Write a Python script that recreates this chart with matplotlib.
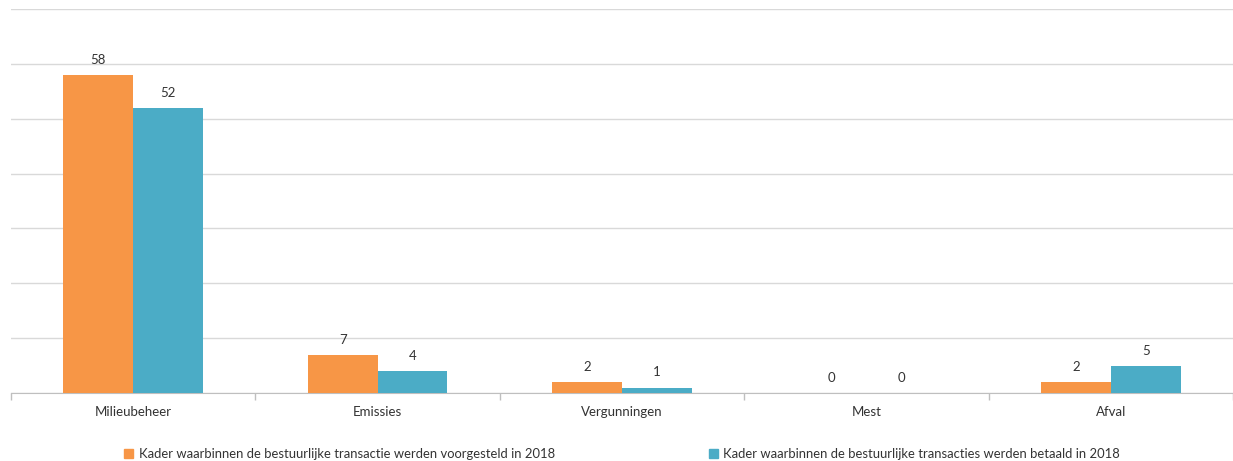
import matplotlib
matplotlib.use("Agg")
import matplotlib.pyplot as plt
import numpy as np
from matplotlib.patches import Patch

categories = ["Milieubeheer", "Emissies", "Vergunningen", "Mest", "Afval"]
voorgesteld = [58, 7, 2, 0, 2]
betaald = [52, 4, 1, 0, 5]
series_names = ["Kader waarbinnen de bestuurlijke transactie werden voorgesteld in 2018",
                "Kader waarbinnen de bestuurlijke transacties werden betaald in 2018"]
colors = ["#F79646", "#4BACC6"]

plt.rcParams['font.family'] = ['Lato', 'DejaVu Sans']

fig = plt.figure(figsize=(12.33, 4.61), dpi=100)
ax = fig.add_axes([11/1233, 1-393/461, 1-11/1233, (393-9)/461])

x = np.arange(len(categories))
w = 0.286
b1 = ax.bar(x - w/2, voorgesteld, w, color=colors[0], zorder=3)
b2 = ax.bar(x + w/2, betaald, w, color=colors[1], zorder=3)
for bars, vals in ((b1, voorgesteld), (b2, betaald)):
    for r, v in zip(bars, vals):
        ax.annotate(str(v), (r.get_x() + r.get_width()/2, v), xytext=(0, 6.5),
                    textcoords="offset points", ha="center", va="bottom",
                    fontsize=9.5, color="#333333")

ax.set_xlim(-0.5, len(categories) - 0.5)
ax.set_ylim(0, 70)
ax.set_yticks(np.arange(0, 71, 10))
ax.yaxis.grid(True, color="#D9D9D9", linewidth=1)
ax.set_axisbelow(True)
ax.tick_params(axis='y', left=False, labelleft=False)
ax.set_xticks(x)
ax.set_xticklabels(categories, fontsize=9.5, color="#333333")
ax.tick_params(axis='x', length=0, pad=9)
ax.set_xticks(np.arange(-0.5, len(categories), 1), minor=True)
ax.tick_params(axis='x', which='minor', length=5, color="#BFBFBF", width=1)
for s in ["top", "right", "left"]:
    ax.spines[s].set_visible(False)
ax.spines["bottom"].set_color("#BFBFBF")

handles = [Patch(color=c) for c in colors]
fig.legend(handles, series_names, loc="center", bbox_to_anchor=(622/1233, 1-454/461),
           ncol=2, frameon=False, fontsize=9.4, handlelength=0.7, handleheight=0.7,
           handletextpad=0.4, columnspacing=11.8, labelcolor="#333333")

fig.savefig("out.png", dpi=100)
